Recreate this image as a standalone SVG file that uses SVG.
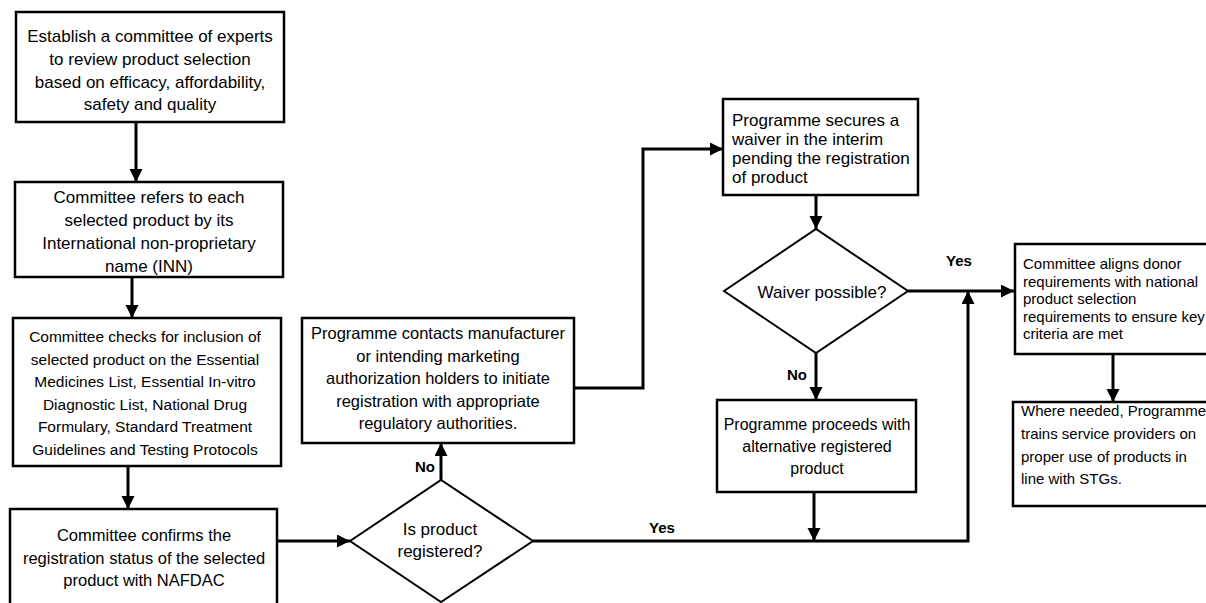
<svg xmlns="http://www.w3.org/2000/svg" width="1206" height="603" viewBox="0 0 1206 603">
  <style>
    .box { fill: #ffffff; stroke: #000000; stroke-width: 2.5; }
    .dia { fill: #ffffff; stroke: #000000; stroke-width: 2; }
    .t { font-family: "Liberation Sans", Arial, sans-serif; font-size: 17px; fill: #000000; }
    .c { text-anchor: middle; }
    .s15 { font-size: 15px; }
    .s155 { font-size: 15.5px; }
    .s16 { font-size: 16px; }
    .s165 { font-size: 16.5px; }
    .lbl { font-family: "Liberation Sans", Arial, sans-serif; font-size: 15px; font-weight: bold; fill: #000000; text-anchor: middle; }
    .wire { fill: none; stroke: #000000; stroke-width: 3; }
  </style>
  <defs>
    <marker id="arrow" markerUnits="userSpaceOnUse" markerWidth="14" markerHeight="14" refX="13" refY="6.5" orient="auto">
      <path d="M0,0 L13,6.5 L0,13 z" fill="#000000"/>
    </marker>
  </defs>
  <rect width="1206" height="603" fill="#ffffff"/>

  <!-- connectors -->
  <g id="connectors">
    <line class="wire" x1="136" y1="122" x2="136" y2="182" marker-end="url(#arrow)"/>
    <line class="wire" x1="132" y1="277" x2="132" y2="318" marker-end="url(#arrow)"/>
    <line class="wire" x1="128" y1="466" x2="128" y2="509" marker-end="url(#arrow)"/>
    <line class="wire" x1="277" y1="541" x2="350" y2="541" marker-end="url(#arrow)"/>
    <line class="wire" x1="441" y1="480" x2="441" y2="443" marker-end="url(#arrow)"/>
    <polyline class="wire" points="574,388 643,388 643,149 723,149" marker-end="url(#arrow)"/>
    <line class="wire" x1="816" y1="195" x2="816" y2="229" marker-end="url(#arrow)"/>
    <line class="wire" x1="908" y1="291" x2="1014" y2="291" marker-end="url(#arrow)"/>
    <line class="wire" x1="816" y1="353" x2="816" y2="400" marker-end="url(#arrow)"/>
    <line class="wire" x1="814" y1="492" x2="814" y2="541" marker-end="url(#arrow)"/>
    <polyline class="wire" points="533,541 968,541 968,291" marker-end="url(#arrow)"/>
    <line class="wire" x1="1113" y1="354" x2="1113" y2="402" marker-end="url(#arrow)"/>
    <text class="lbl" x="425" y="472">No</text>
    <text class="lbl" x="662" y="533">Yes</text>
    <text class="lbl" x="959" y="266">Yes</text>
    <text class="lbl" x="797" y="380">No</text>
  </g>

  <g id="committee">
    <rect class="box" x="16" y="12" width="268" height="110"/>
    <text class="t c" x="150" y="42">Establish a committee of experts</text>
    <text class="t c" x="150" y="65">to review product selection</text>
    <text class="t c" x="150" y="88">based on efficacy, affordability,</text>
    <text class="t c" x="150" y="110">safety and quality</text>
  </g>

  <g id="inn">
    <rect class="box" x="15" y="182" width="268" height="95"/>
    <text class="t c" x="149" y="203">Committee refers to each</text>
    <text class="t c" x="149" y="226">selected product by its</text>
    <text class="t c" x="149" y="249">International non-proprietary</text>
    <text class="t c" x="149" y="272">name (INN)</text>
  </g>

  <g id="inclusion">
    <rect class="box" x="13" y="318" width="268" height="148"/>
    <text class="t c s155" x="145" y="342">Committee checks for inclusion of</text>
    <text class="t c s155" x="145" y="364.5">selected product on the Essential</text>
    <text class="t c s155" x="145" y="387">Medicines List, Essential In-vitro</text>
    <text class="t c s155" x="145" y="409.5">Diagnostic List, National Drug</text>
    <text class="t c s155" x="145" y="432">Formulary, Standard Treatment</text>
    <text class="t c s155" x="145" y="454.5">Guidelines and Testing Protocols</text>
  </g>

  <g id="registration-status">
    <rect class="box" x="10" y="509" width="267" height="104"/>
    <text class="t c s165" x="144" y="541">Committee confirms the</text>
    <text class="t c s165" x="144" y="563.5">registration status of the selected</text>
    <text class="t c s165" x="144" y="586">product with NAFDAC</text>
  </g>

  <g id="is-registered">
    <polygon class="dia" points="350,541 441,480 533,541 441,602"/>
    <text class="t c" x="440" y="535">Is product</text>
    <text class="t c" x="440" y="557">registered?</text>
  </g>

  <g id="contact-manufacturer">
    <rect class="box" x="302" y="318" width="272" height="125"/>
    <text class="t c s165" x="438" y="339">Programme contacts manufacturer</text>
    <text class="t c s165" x="438" y="361.5">or intending marketing</text>
    <text class="t c s165" x="438" y="384">authorization holders to initiate</text>
    <text class="t c s165" x="438" y="406.5">registration with appropriate</text>
    <text class="t c s165" x="438" y="429">regulatory authorities.</text>
  </g>

  <g id="waiver">
    <rect class="box" x="723" y="99" width="195" height="96"/>
    <text class="t" x="732" y="126">Programme secures a</text>
    <text class="t" x="732" y="145">waiver in the interim</text>
    <text class="t" x="732" y="164">pending the registration</text>
    <text class="t" x="732" y="183">of product</text>
  </g>

  <g id="waiver-possible">
    <polygon class="dia" points="724,291 816,229 908,291 816,353"/>
    <text class="t c" x="822" y="298">Waiver possible?</text>
  </g>

  <g id="alternative">
    <rect class="box" x="717" y="400" width="199" height="92"/>
    <text class="t c s16" x="817" y="430">Programme proceeds with</text>
    <text class="t c s16" x="817" y="452">alternative registered</text>
    <text class="t c s16" x="817" y="474">product</text>
  </g>

  <g id="align-donor">
    <rect class="box" x="1015" y="244" width="200" height="110"/>
    <text class="t s15" x="1023" y="269">Committee aligns donor</text>
    <text class="t s15" x="1023" y="286.5">requirements with national</text>
    <text class="t s15" x="1023" y="304">product selection</text>
    <text class="t s15" x="1023" y="321.5">requirements to ensure key</text>
    <text class="t s15" x="1023" y="339">criteria are met</text>
  </g>

  <g id="train-providers">
    <rect class="box" x="1013" y="402" width="200" height="104"/>
    <text class="t s15" x="1021" y="416">Where needed, Programme</text>
    <text class="t s15" x="1021" y="439">trains service providers on</text>
    <text class="t s15" x="1021" y="461.5">proper use of products in</text>
    <text class="t s15" x="1021" y="484">line with STGs.</text>
  </g>
</svg>
